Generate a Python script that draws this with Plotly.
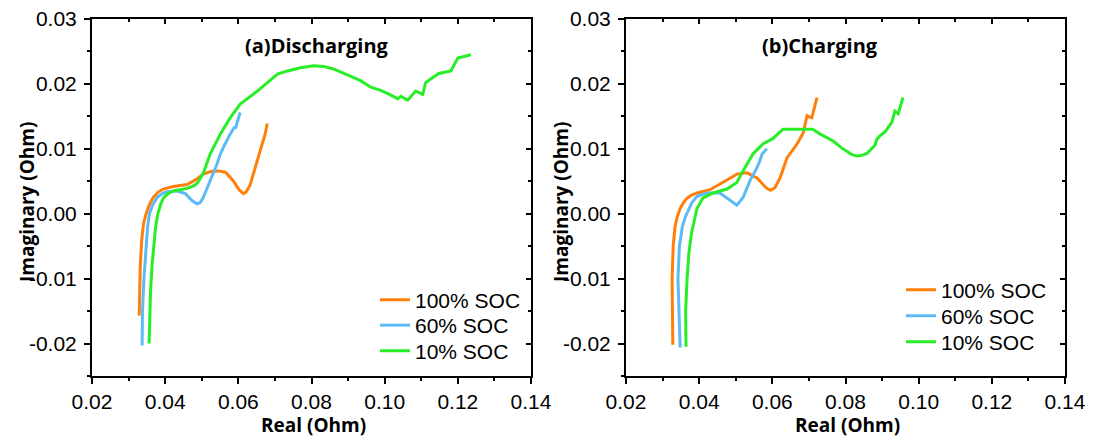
import plotly.graph_objects as go

# ---------------- data ----------------
series_names = ["100% SOC", "60% SOC", "10% SOC"]
colors = ["#FF7F0A", "#5CBBF6", "#27EE27"]

x_tick_vals = [0.02, 0.04, 0.06, 0.08, 0.10, 0.12, 0.14]
x_tick_text = ["0.02", "0.04", "0.06", "0.08", "0.10", "0.12", "0.14"]
y_tick_vals = [-0.02, -0.01, 0.0, 0.01, 0.02, 0.03]
y_tick_text = ["-0.02", "-0.01", "0.00", "0.01", "0.02", "0.03"]

# (a) Discharging
dis_100_x = [0.0329, 0.0330, 0.0332, 0.0336, 0.0341, 0.0348, 0.0356, 0.0367, 0.0380, 0.0395, 0.0422, 0.0460,
             0.0488, 0.0504, 0.0525, 0.0545, 0.0565, 0.0586, 0.0602, 0.0614, 0.0622, 0.0632, 0.0641, 0.0648,
             0.0655, 0.0660, 0.0669, 0.0674, 0.0679]
dis_100_y = [-0.0157, -0.0120, -0.0080, -0.0040, -0.0015, 0.0000, 0.0013, 0.0025, 0.0033, 0.0038, 0.0042, 0.0045,
             0.0054, 0.0061, 0.0065, 0.0066, 0.0064, 0.0051, 0.0037, 0.0031, 0.0034, 0.0044, 0.0061, 0.0072,
             0.0086, 0.0095, 0.0112, 0.0124, 0.0139]

dis_60_x = [0.0337, 0.0338, 0.0342, 0.0347, 0.0352, 0.0357, 0.0366, 0.0378, 0.0392, 0.0405, 0.0433, 0.0455,
            0.0474, 0.0488, 0.0497, 0.0504, 0.0514, 0.0523, 0.0542, 0.0551, 0.0555, 0.0559, 0.0578, 0.0590,
            0.0592, 0.0597, 0.0605]
dis_60_y = [-0.0203, -0.0150, -0.0100, -0.0050, -0.0020, 0.0000, 0.0014, 0.0025, 0.0031, 0.0034, 0.0035, 0.0031,
            0.0020, 0.0015, 0.0018, 0.0025, 0.0038, 0.0051, 0.0077, 0.0092, 0.0098, 0.0102, 0.0123, 0.0134,
            0.0131, 0.0140, 0.0156]

dis_10_x = [0.0356, 0.0357, 0.0360, 0.0364, 0.0369, 0.0374, 0.0380, 0.0388, 0.0395, 0.0408, 0.0422, 0.0440,
            0.0460, 0.0478, 0.0488, 0.0504, 0.0523, 0.0551, 0.0578, 0.0605, 0.0652, 0.0707, 0.0735, 0.0770,
            0.0806, 0.0833, 0.0860, 0.0898, 0.0934, 0.0962, 0.0989, 0.1016, 0.1036, 0.1044, 0.1063, 0.1085,
            0.1104, 0.1112, 0.1148, 0.1181, 0.1200, 0.1236]
dis_10_y = [-0.0200, -0.0160, -0.0120, -0.0080, -0.0050, -0.0020, 0.0000, 0.0015, 0.0024, 0.0031, 0.0035, 0.0037,
            0.0039, 0.0043, 0.0047, 0.0062, 0.0092, 0.0123, 0.0148, 0.0169, 0.0189, 0.0215, 0.0220, 0.0225,
            0.0228, 0.0227, 0.0223, 0.0214, 0.0205, 0.0195, 0.0190, 0.0183, 0.0177, 0.0181, 0.0175, 0.0189,
            0.0184, 0.0202, 0.0216, 0.0220, 0.0240, 0.0245]

# (b) Charging
chg_100_x = [0.0328, 0.0326, 0.0326, 0.0329, 0.0334, 0.0340, 0.0348, 0.0357, 0.0367, 0.0380, 0.0394, 0.0430,
             0.0465, 0.0503, 0.0531, 0.0558, 0.0585, 0.0595, 0.0607, 0.0621, 0.0640, 0.0655, 0.0667, 0.0684,
             0.0695, 0.0701, 0.0708, 0.0722]
chg_100_y = [-0.0202, -0.0150, -0.0100, -0.0050, -0.0020, -0.0005, 0.0008, 0.0017, 0.0024, 0.0029, 0.0032, 0.0037,
             0.0049, 0.0061, 0.0063, 0.0055, 0.0039, 0.0036, 0.0040, 0.0055, 0.0086, 0.0098, 0.0107, 0.0124,
             0.0151, 0.0149, 0.0148, 0.0179]

chg_60_x = [0.0348, 0.0344, 0.0342, 0.0346, 0.0354, 0.0362, 0.0370, 0.0380, 0.0394, 0.0421, 0.0457, 0.0484,
            0.0503, 0.0520, 0.0539, 0.0558, 0.0565, 0.0572, 0.0578, 0.0585]
chg_60_y = [-0.0206, -0.0150, -0.0100, -0.0050, -0.0020, -0.0005, 0.0005, 0.0017, 0.0027, 0.0032, 0.0032, 0.0020,
            0.0013, 0.0025, 0.0051, 0.0071, 0.0080, 0.0092, 0.0095, 0.0100]

chg_10_x = [0.0364, 0.0363, 0.0367, 0.0372, 0.0379, 0.0386, 0.0394, 0.0410, 0.0438, 0.0476, 0.0503, 0.0520,
            0.0547, 0.0575, 0.0602, 0.0629, 0.0676, 0.0710, 0.0730, 0.0766, 0.0793, 0.0818, 0.0831, 0.0845,
            0.0859, 0.0875, 0.0881, 0.0885, 0.0894, 0.0908, 0.0927, 0.0935, 0.0944, 0.0957]
chg_10_y = [-0.0205, -0.0150, -0.0100, -0.0060, -0.0030, -0.0010, 0.0008, 0.0024, 0.0032, 0.0038, 0.0048, 0.0066,
            0.0092, 0.0108, 0.0116, 0.0130, 0.0130, 0.0130, 0.0123, 0.0112, 0.0100, 0.0091, 0.0089, 0.0090,
            0.0093, 0.0102, 0.0106, 0.0114, 0.0120, 0.0126, 0.0141, 0.0158, 0.0154, 0.0179]

panel_titles = ["(a)Discharging", "(b)Charging"]
x_title = "Real (Ohm)"
y_title = "Imaginary (Ohm)"

# ---------------- figure ----------------
W, H = 1096, 443
fig = go.Figure()

dis = [(dis_100_x, dis_100_y), (dis_60_x, dis_60_y), (dis_10_x, dis_10_y)]
chg = [(chg_100_x, chg_100_y), (chg_60_x, chg_60_y), (chg_10_x, chg_10_y)]

# one legend per entry so that row spacing can follow the original
left_rows = [300, 325.5, 351]
right_rows = [290, 316, 342]
legfont = dict(family="Liberation Sans, Arial", size=21, color="black")
legends = {}
for i, ((xs, ys), name, c) in enumerate(zip(dis, series_names, colors)):
    lname = "legend" if i == 0 else "legend%d" % (i + 1)
    fig.add_trace(go.Scatter(x=xs, y=ys, mode="lines", name=name, line=dict(color=c, width=3),
                             xaxis="x", yaxis="y", legend=lname))
    legends[lname] = dict(x=375 / W, y=1 - left_rows[i] / H, xanchor="left", yanchor="middle",
                          font=legfont, bgcolor="rgba(0,0,0,0)")
for i, ((xs, ys), name, c) in enumerate(zip(chg, series_names, colors)):
    lname = "legend%d" % (i + 4)
    fig.add_trace(go.Scatter(x=xs, y=ys, mode="lines", name=name, line=dict(color=c, width=3),
                             xaxis="x2", yaxis="y2", legend=lname))
    legends[lname] = dict(x=901 / W, y=1 - right_rows[i] / H, xanchor="left", yanchor="middle",
                          font=legfont, bgcolor="rgba(0,0,0,0)")

# empty traces so that the overlay (inner-tick) axes are created
fig.add_trace(go.Scatter(x=[], y=[], xaxis="x3", yaxis="y3", showlegend=False, hoverinfo="skip"))
fig.add_trace(go.Scatter(x=[], y=[], xaxis="x4", yaxis="y4", showlegend=False, hoverinfo="skip"))

tickfont = dict(family="Liberation Sans, Arial", size=21, color="black")
xr = [0.02, 0.14]
yr = [-0.025, 0.03]
ydom = [1 - 376 / H, 1 - 19 / H]
xdoms = [[92 / W, 531 / W], [626 / W, 1065 / W]]


def xax(dom, anchor):
    return dict(domain=dom, anchor=anchor, range=xr, tickmode="array", tickvals=x_tick_vals,
                ticktext=x_tick_text,
                ticks="outside", ticklen=6, tickwidth=2, tickcolor="black",
                showline=True, linewidth=2, linecolor="black", mirror=True, automargin=False,
                showgrid=False, zeroline=False, tickfont=tickfont,
                minor=dict(ticks="outside", ticklen=3, tickwidth=2, tickcolor="black",
                           tick0=0.02, dtick=0.01, showgrid=False))


def yax(anchor):
    return dict(domain=ydom, anchor=anchor, range=yr, tickmode="array", tickvals=y_tick_vals,
                ticktext=y_tick_text, ticklabelstandoff=3,
                ticks="outside", ticklen=6, tickwidth=2, tickcolor="black",
                showline=True, linewidth=2, linecolor="black", mirror=True, automargin=False,
                showgrid=False, zeroline=False, tickfont=tickfont,
                minor=dict(ticks="outside", ticklen=3, tickwidth=2, tickcolor="black",
                           tick0=0, dtick=0.005, showgrid=False))


def xover(over, anchor):
    return dict(overlaying=over, anchor=anchor, side="top", range=xr, tick0=0.02, dtick=0.02,
                ticks="inside", ticklen=5, tickwidth=2, tickcolor="black", showticklabels=False,
                showline=False, showgrid=False, zeroline=False, automargin=False,
                minor=dict(ticks="inside", ticklen=3, tickwidth=2, tickcolor="black",
                           tick0=0.02, dtick=0.01, showgrid=False))


def yover(over, anchor):
    return dict(overlaying=over, anchor=anchor, side="right", range=yr, tick0=0, dtick=0.01,
                ticks="inside", ticklen=5, tickwidth=2, tickcolor="black", showticklabels=False,
                showline=False, showgrid=False, zeroline=False, automargin=False,
                minor=dict(ticks="inside", ticklen=3, tickwidth=2, tickcolor="black",
                           tick0=0, dtick=0.005, showgrid=False))


fig.update_layout(
    width=W, height=H,
    margin=dict(l=0, r=0, t=0, b=0, autoexpand=False),
    paper_bgcolor="white", plot_bgcolor="white",
    xaxis=xax(xdoms[0], "y"), yaxis=yax("x"),
    xaxis2=xax(xdoms[1], "y2"), yaxis2=yax("x2"),
    xaxis3=xover("x", "y"), yaxis3=yover("y", "x"),
    xaxis4=xover("x2", "y2"), yaxis4=yover("y2", "x2"),
    showlegend=True,
    **legends,
)

tfont = dict(family="Open Sans", size=20, color="black")
afont = dict(family="Open Sans", size=19, color="black")
ann = [
    dict(text="<b>%s</b>" % panel_titles[0], x=317 / W, y=1 - 45 / H, font=tfont),
    dict(text="<b>%s</b>" % panel_titles[1], x=820 / W, y=1 - 45 / H, font=tfont),
    dict(text="<b>%s</b>" % x_title, x=313 / W, y=1 - 425 / H, font=afont),
    dict(text="<b>%s</b>" % x_title, x=847 / W, y=1 - 425 / H, font=afont),
    dict(text="<b>%s</b>" % y_title, x=27 / W, y=1 - 202 / H, textangle=-90, font=afont),
    dict(text="<b>%s</b>" % y_title, x=561 / W, y=1 - 202 / H, textangle=-90, font=afont),
]
for a in ann:
    fig.add_annotation(xref="paper", yref="paper", xanchor="center", yanchor="middle",
                       showarrow=False, **a)

fig.write_html("out.html")
